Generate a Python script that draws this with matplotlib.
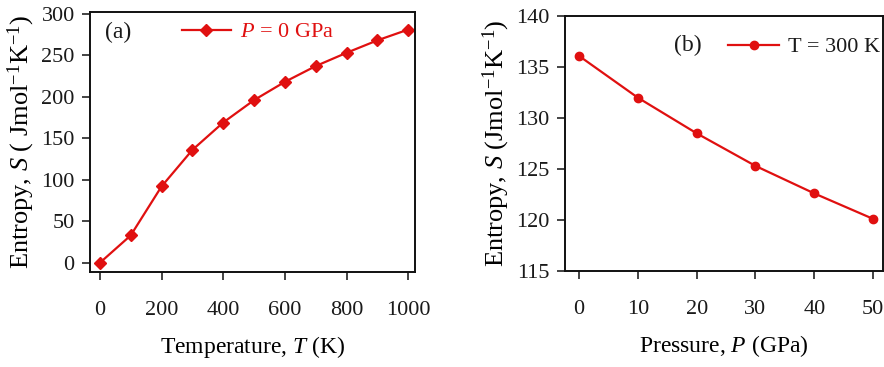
import matplotlib.pyplot as plt

plt.rcParams['font.family'] = ['Liberation Serif', 'DejaVu Serif']
plt.rcParams['mathtext.fontset'] = 'custom'
plt.rcParams['mathtext.rm'] = 'Liberation Serif'
plt.rcParams['mathtext.it'] = 'Liberation Serif:italic'
plt.rcParams['text.color'] = '#1a1a1a'

# (a) entropy vs temperature at P = 0 GPa
temperature = [0, 100, 200, 300, 400, 500, 600, 700, 800, 900, 1000]
entropy_t = [0, 33, 92, 136, 169, 196, 218, 237, 253, 268, 281]

# (b) entropy vs pressure at T = 300 K
pressure = [0, 10, 20, 30, 40, 50]
entropy_p = [136.1, 132.0, 128.5, 125.3, 122.6, 120.1]

red = '#e01010'

fig = plt.figure(figsize=(8.84, 3.67), dpi=100)
ax1 = fig.add_axes([0.1018, 0.259, 0.3677, 0.708])
ax2 = fig.add_axes([0.639, 0.262, 0.36, 0.694])

for ax in (ax1, ax2):
    for s in ax.spines.values():
        s.set_linewidth(1.4)
        s.set_color('#111111')
    ax.tick_params(direction='out', length=6, width=1.1, labelsize=16,
                   colors='#111111', labelcolor='#1a1a1a')
    ax.tick_params(axis='x', pad=15)
    ax.tick_params(axis='y', pad=5)

# 左圖
ax1.plot(temperature, entropy_t, color=red, lw=1.6, marker='D', ms=6,
         label='$P$ = 0 GPa')
ax1.set_xlim(-32, 1022)
ax1.set_ylim(-11, 302)
ax1.set_xticks([0, 200, 400, 600, 800, 1000])
ax1.set_yticks([0, 50, 100, 150, 200, 250, 300])
ax1.set_xlabel('Temperature, $T$ (K)', fontsize=17, labelpad=10)
ax1.set_ylabel('Entropy, $S$ ( Jmol$^{-1}$K$^{-1}$)', fontsize=19, labelpad=3)
ax1.text(0.086, 0.923, '(a)', transform=ax1.transAxes, fontsize=17,
         ha='center', va='center')
leg1 = ax1.legend(loc='center left', bbox_to_anchor=(0.283, 0.923),
                  frameon=False, fontsize=16, borderpad=0, borderaxespad=0,
                  handlelength=2.2, handletextpad=0.4)
for t in leg1.get_texts():
    t.set_color(red)

# 右圖
ax2.plot(pressure, entropy_p, color=red, lw=1.6, marker='o', ms=6,
         label='T = 300 K')
ax2.set_xlim(-2.4, 51.7)
ax2.set_ylim(115, 140)
ax2.set_xticks([0, 10, 20, 30, 40, 50])
ax2.set_yticks([115, 120, 125, 130, 135, 140])
ax2.set_xlabel('Pressure, $P$ (GPa)', fontsize=17, labelpad=10)
ax2.set_ylabel('Entropy, $S$ (Jmol$^{-1}$K$^{-1}$)', fontsize=19, labelpad=3)
ax2.text(0.387, 0.886, '(b)', transform=ax2.transAxes, fontsize=17,
         ha='center', va='center')
ax2.legend(loc='center left', bbox_to_anchor=(0.513, 0.878),
           frameon=False, fontsize=16, borderpad=0, borderaxespad=0,
           handlelength=2.3, handletextpad=0.4)

fig.savefig('out.png', dpi=100)
